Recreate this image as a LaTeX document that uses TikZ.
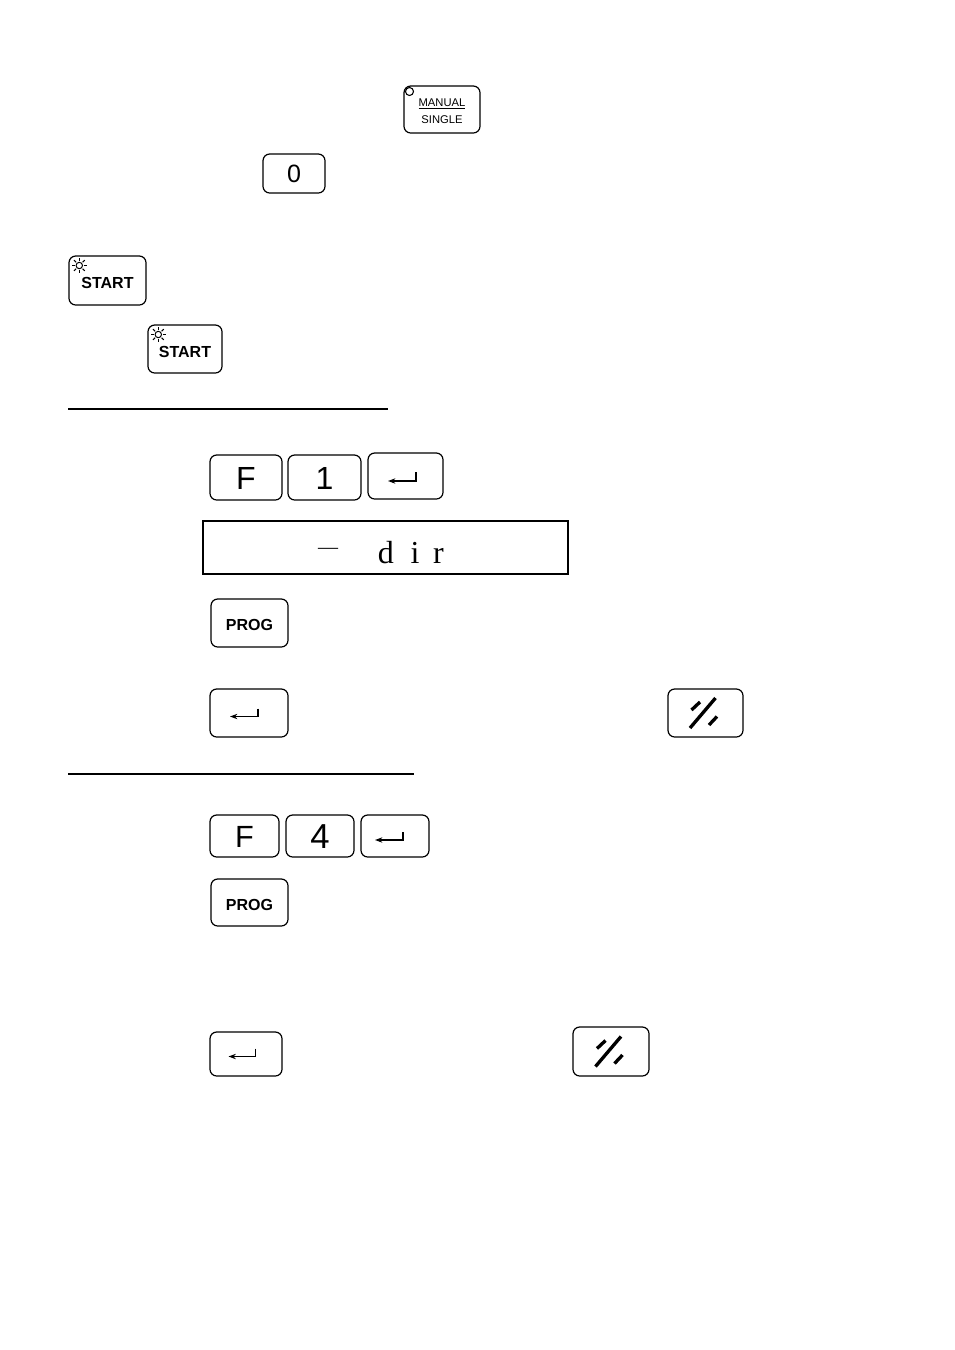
\documentclass[tikz,border=0pt]{standalone}
\usepackage{fontspec}
\setmainfont{Liberation Sans}
\newfontfamily\dispfont{Liberation Serif}
\usetikzlibrary{arrows.meta}
\begin{document}
\begin{tikzpicture}[x=0.75pt,y=-0.75pt,
  key/.style={draw, line width=0.9pt, rounded corners=5pt, inner sep=0pt},
  keysz/.style 2 args={minimum width=#1*0.75pt, minimum height=#2*0.75pt},
  rulestyle/.style={line width=1pt},
  enter/.style={line width=1pt, -{Stealth[length=5.5pt,width=4pt]}},
  cancelstroke/.style={line width=2.5pt},
  sunray/.style={line width=0.75pt},
  bigdigit/.style={font=\fontsize{24}{28}\selectfont},
  boldlbl/.style={font=\bfseries\fontsize{12}{14}\selectfont},
]
\fill[white] (0,0) rectangle (954,1350);
\useasboundingbox (0,0) rectangle (954,1350);

% MANUAL / SINGLE
\node[key, keysz={76}{47}] (manual) at (442,109.5) {};
\node[font=\fontsize{8.4}{12}\selectfont, align=center, inner sep=0pt] (manuallbl) at (442,111.5) {\underline{MANUAL}\\[1pt]SINGLE};
\draw[line width=0.8pt, fill=white] (409.5,91.5) circle[radius=4];

% 0 key
\node[key, keysz={62}{39}] (zero) at (294,173.5) {};
\node[font=\fontsize{18.8}{22}\selectfont, inner sep=0pt] (zerolbl) at (294,174) {0};

% START keys
\node[key, keysz={77}{49}] (start1) at (107.5,280.5) {};
\node[boldlbl, inner sep=0pt] (start1lbl) at (107.5,283) {START};
\node[key, keysz={74}{48}] (start2) at (185,349) {};
\node[boldlbl, inner sep=0pt] (start2lbl) at (185,351.5) {START};
\foreach \c in {(79.3,265.5),(158.3,334.5)} {
  \draw[sunray] \c circle[radius=3.2];
  \foreach \a in {0,45,...,315} \draw[sunray] \c ++(\a:4.6) -- ++(\a:3);
}

% rule 1
\draw[rulestyle] (68,409) -- (388,409);

% F 1 enter
\node[key, keysz={72}{45}] (f1f) at (246,477.5) {};
\node[bigdigit, inner sep=0pt] (f1flbl) at (246,478) {F};
\node[key, keysz={73}{45}] (f1one) at (324.5,477.5) {};
\node[bigdigit, inner sep=0pt] (f1onelbl) at (324.5,478) {1};
\node[key, keysz={75}{46}] (f1ent) at (405.5,476) {};
\draw[enter] ([shift={(10.5,-4)}]f1ent.center) -- ++(0,9) -- ++(-28,0);

% display
\node[draw, line width=1.1pt, keysz={365}{53}, inner sep=0pt] (disp) at (385.5,547.5) {};
\node[font=\dispfont\fontsize{15}{18}\selectfont, inner sep=0pt, anchor=base] (dispdash) at (328,553.5) {—};
\node[font=\dispfont\fontsize{24}{28}\selectfont, inner sep=0pt, anchor=base west] (dispdir) at (377.5,563) {d\hspace{12.6pt}i\hspace{10.3pt}r};

% PROG 1
\node[key, keysz={77}{48}] (prog1) at (249.5,623) {};
\node[boldlbl, inner sep=0pt] (prog1lbl) at (249.5,625) {PROG};

% enter 2 + cancel 1
\node[key, keysz={78}{48}] (ent2) at (249,713) {};
\draw[enter] ([shift={(9,-4.5)}]ent2.center) -- ++(0,8) -- ++(-28,0);
\node[key, keysz={75}{48}] (cancel1) at (705.5,713) {};
\draw[cancelstroke] ([shift={(-15.5,15)}]cancel1.center) -- ([shift={(10,-15)}]cancel1.center);
\draw[cancelstroke] ([shift={(-14,-3)}]cancel1.center) -- ([shift={(-5.5,-11)}]cancel1.center);
\draw[cancelstroke] ([shift={(3.5,12)}]cancel1.center) -- ([shift={(11.5,3.5)}]cancel1.center);

% rule 2
\draw[rulestyle] (68,774) -- (414,774);

% F 4 enter
\node[key, keysz={69}{42}] (f4f) at (244.5,836) {};
\node[font=\fontsize{23}{27}\selectfont, inner sep=0pt] (f4flbl) at (244.5,836.5) {F};
\node[key, keysz={68}{42}] (f4four) at (320,836) {};
\node[font=\fontsize{26}{30}\selectfont, inner sep=0pt] (f4fourlbl) at (320,837) {4};
\node[key, keysz={68}{42}] (f4ent) at (395,836) {};
\draw[enter] ([shift={(8,-4)}]f4ent.center) -- ++(0,8) -- ++(-28,0);

% PROG 2
\node[key, keysz={77}{47}] (prog2) at (249.5,902.5) {};
\node[boldlbl, inner sep=0pt] (prog2lbl) at (249.5,904.5) {PROG};

% enter 3 + cancel 2
\node[key, keysz={72}{44}] (ent3) at (246,1054) {};
\draw[enter] ([shift={(9.5,-5.5)}]ent3.center) -- ++(0,8) -- ++(-27,0);
\node[key, keysz={76}{49}] (cancel2) at (611,1051.5) {};
\draw[cancelstroke] ([shift={(-15.5,15)}]cancel2.center) -- ([shift={(10,-15)}]cancel2.center);
\draw[cancelstroke] ([shift={(-14,-3)}]cancel2.center) -- ([shift={(-5.5,-11)}]cancel2.center);
\draw[cancelstroke] ([shift={(3.5,12)}]cancel2.center) -- ([shift={(11.5,3.5)}]cancel2.center);
\end{tikzpicture}
\end{document}
